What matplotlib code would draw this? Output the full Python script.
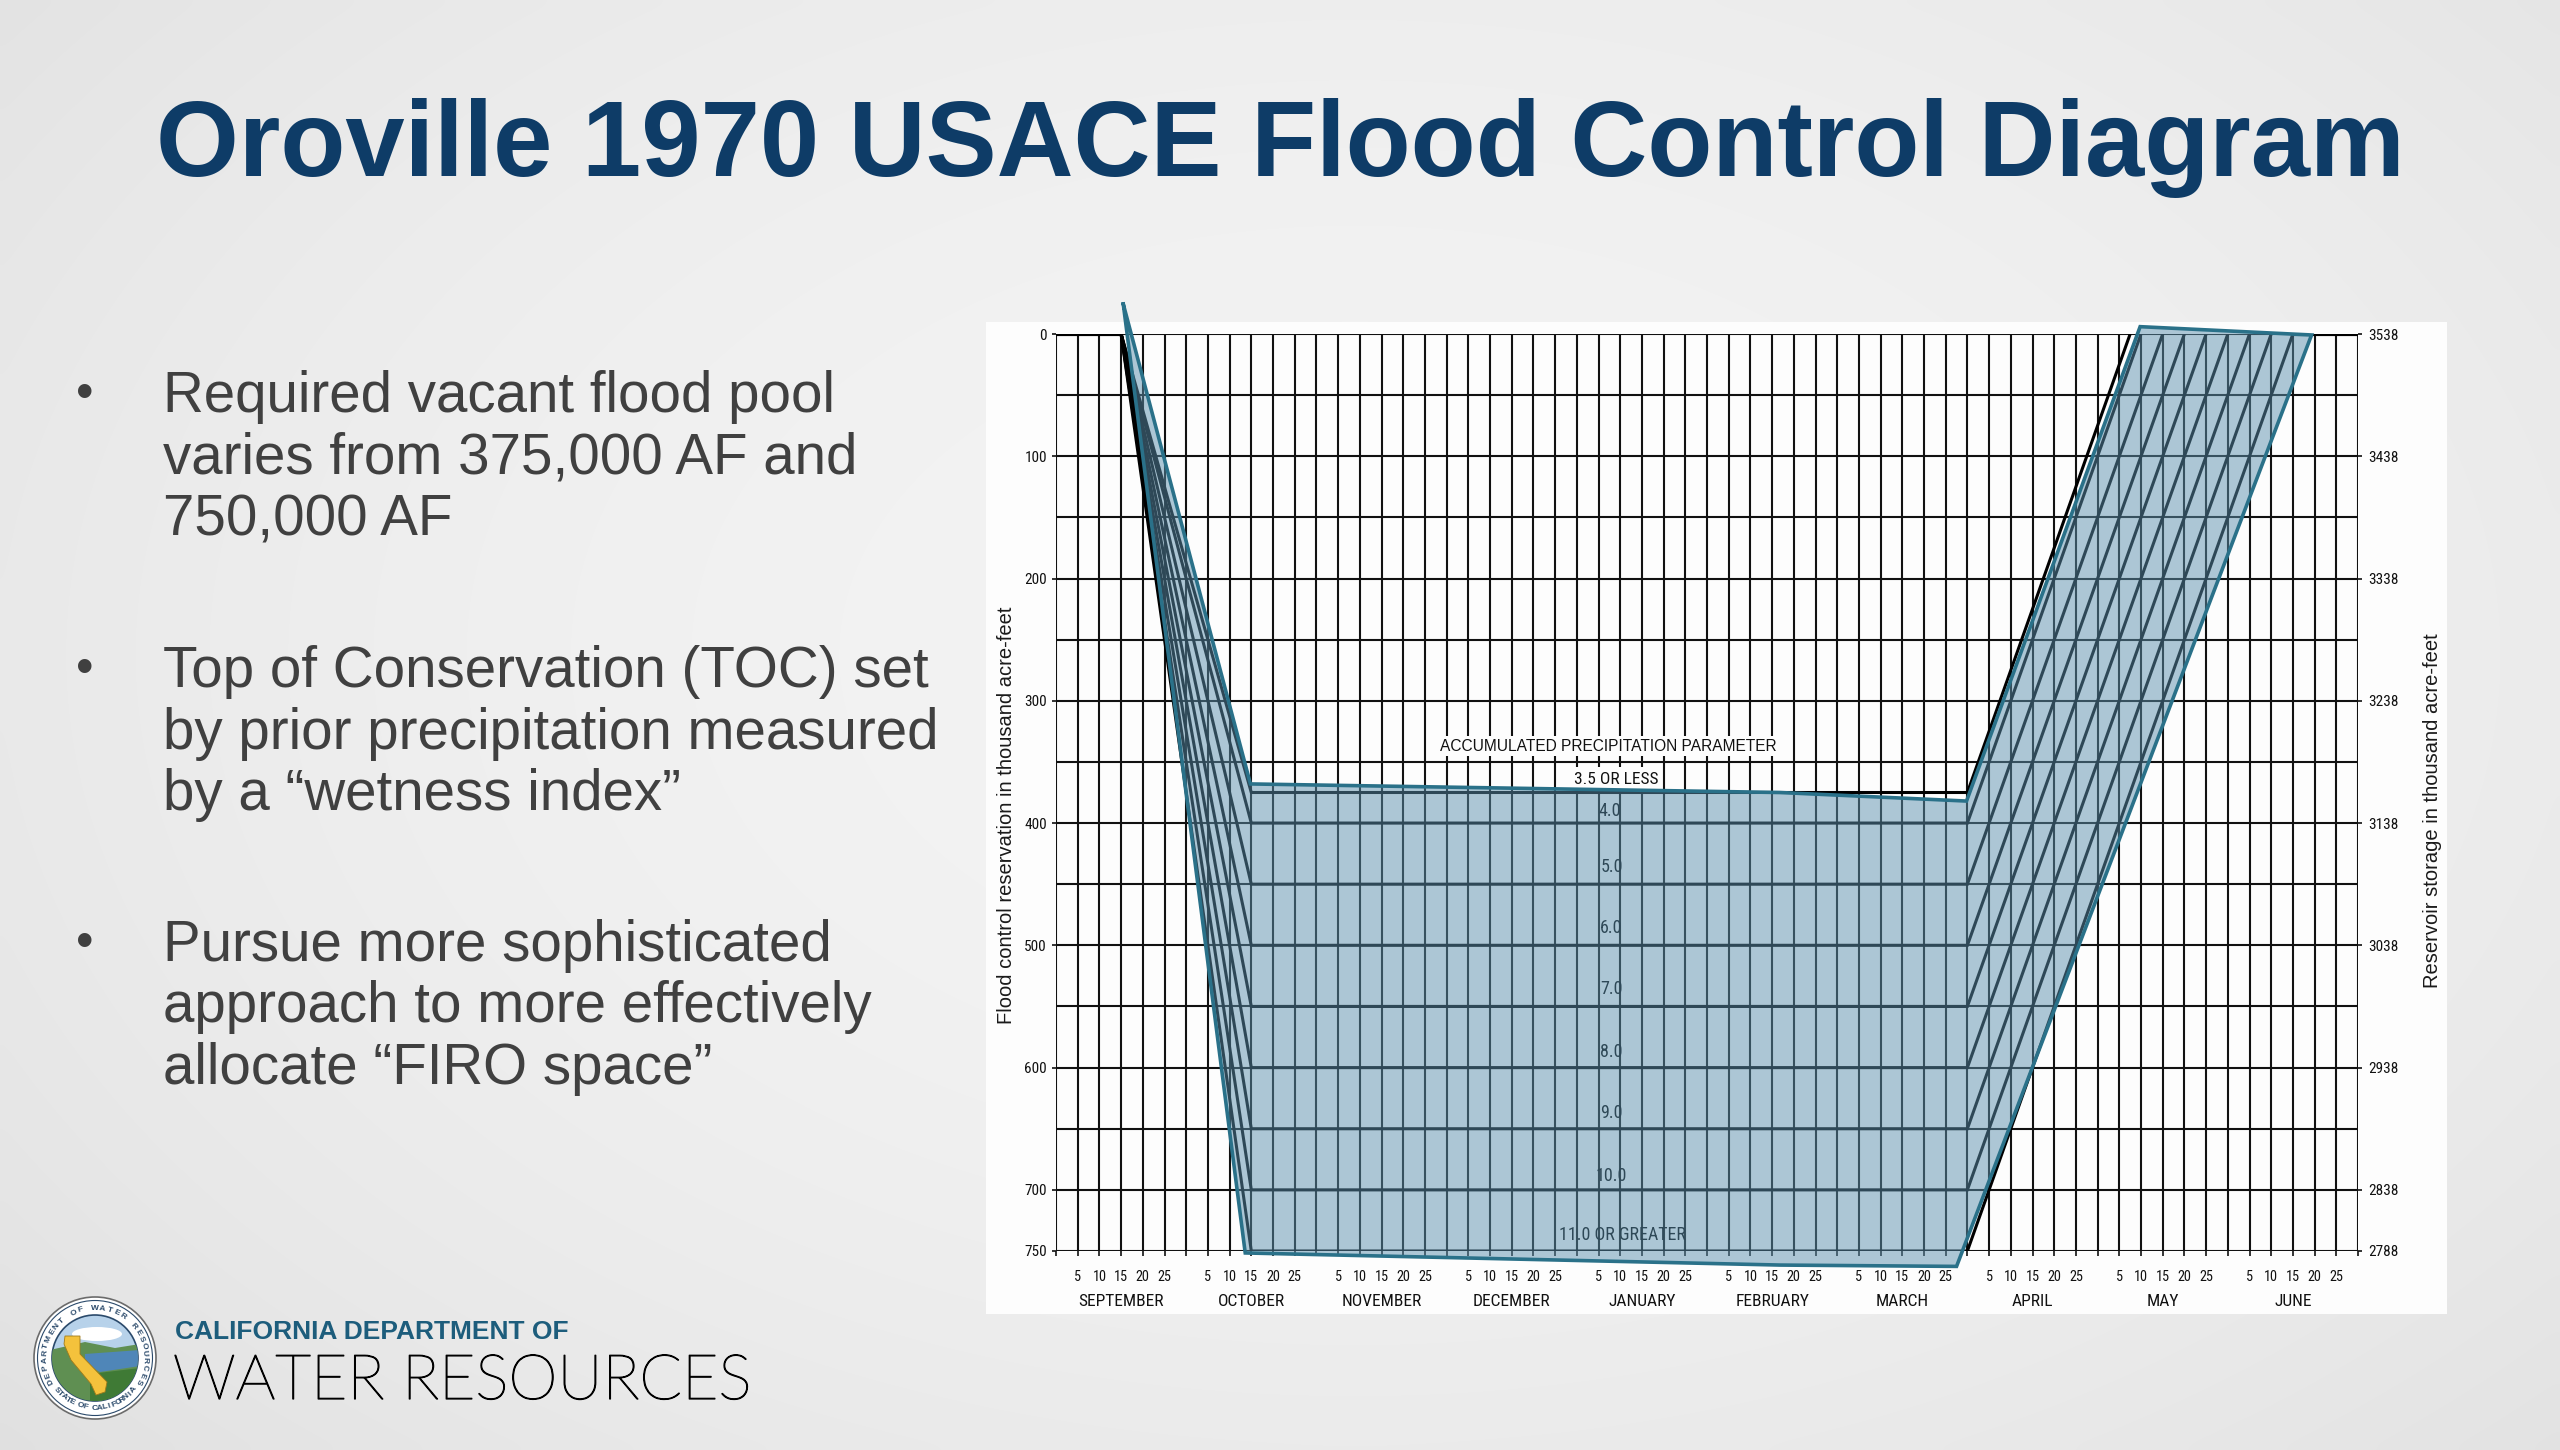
import numpy as np
import matplotlib
matplotlib.use('Agg')
import matplotlib.pyplot as plt
from matplotlib import font_manager as fm
from matplotlib import patheffects as pe
from matplotlib.patches import Rectangle, Circle, Polygon, Ellipse

# ---------------- data ----------------
months = ['SEPTEMBER', 'OCTOBER', 'NOVEMBER', 'DECEMBER', 'JANUARY',
          'FEBRUARY', 'MARCH', 'APRIL', 'MAY', 'JUNE']
day_ticks = [5, 10, 15, 20, 25]

flood_space_levels = [375, 400, 450, 500, 550, 600, 650, 700, 750]   # thousand AF
precip_labels = ['3.5 OR LESS', '4.0', '5.0', '6.0', '7.0', '8.0', '9.0', '10.0', '11.0 OR GREATER']
precip_label_x = [129.0, 127.6, 128.0, 128.0, 128.0, 128.0, 128.0, 128.0, 130.6]
precip_label_y = [364, 390, 436, 486, 536, 587, 637, 689, 737]

drawdown_start = 15      # Sep 15 (chart day index)
drawdown_end = 45        # Oct 15
refill_start = 210       # Apr 1
refill_end = [247.5, 250, 255, 260, 265, 270, 275, 280, 285]

left_ticks = [0, 100, 200, 300, 400, 500, 600, 700, 750]
left_tick_labels = ['0', '100', '200', '300', '400', '500', '600', '700', '750']
right_tick_labels = ['3538', '3438', '3338', '3238', '3138', '3038', '2938', '2838', '2788']

highlight_x = [15.5, 44.8, 166.8, 209.8, 249.8, 289.3, 207.5, 166.8, 43.6]
highlight_y = [-24.5, 368, 375, 382, -6, 0.8, 762.6, 761.5, 751.6]

title = 'Oroville 1970 USACE Flood Control Diagram'
bullets = [
    ['Required vacant flood pool', 'varies from 375,000 AF and', '750,000 AF'],
    ['Top of Conservation (TOC) set', 'by prior precipitation measured', 'by a \u201cwetness index\u201d'],
    ['Pursue more sophisticated', 'approach to more effectively', 'allocate \u201cFIRO space\u201d'],
]

# ---------------- fonts ----------------
ttf = fm.fontManager.ttflist
names = {f.name for f in ttf}
NARROW_KW = None
for cand in ['Liberation Sans Narrow', 'Arial Narrow', 'Roboto Condensed', 'Open Sans Condensed',
             'Noto Sans Condensed', 'DejaVu Sans Condensed']:
    if cand in names:
        NARROW_KW = dict(family=[cand, 'DejaVu Sans'])
        break
if NARROW_KW is None:
    for fam in ['Liberation Sans', 'Noto Sans', 'Open Sans', 'Roboto', 'DejaVu Sans']:
        if any(f.name == fam and 'ondensed' in str(f.fname) for f in ttf):
            NARROW_KW = dict(family=[fam], stretch='condensed')
            break
if NARROW_KW is None:
    NARROW_KW = dict(family=['Liberation Sans', 'DejaVu Sans'])
LIGHT = 'Lato' if 'Lato' in names else 'Liberation Sans'
plt.rcParams['font.family'] = ['Liberation Sans', 'DejaVu Sans']

W, H = 2560, 1450
fig = plt.figure(figsize=(W / 100, H / 100), dpi=100)

# ---------------- slide background ----------------
bg = fig.add_axes([0, 0, 1, 1], zorder=0)
bg.set_xlim(0, W)
bg.set_ylim(H, 0)
bg.axis('off')
yy, xx = np.mgrid[0:H:10, 0:W:10]
r2 = ((xx - 1350) / 1700.0) ** 2 + ((yy - 650) / 1100.0) ** 2
val = np.clip(0.955 - 0.065 * r2, 0.86, 1.0)
bg.imshow(np.dstack([val, val, val]), extent=(0, W, H, 0), interpolation='bicubic',
          aspect='auto', zorder=0)

# white chart panel
bg.add_patch(Rectangle((986, 322), 1461, 992, fc='#fdfdfd', ec='none', zorder=1))

# title
bg.text(1280, 176, title, fontsize=76.7, fontweight='bold', color='#0e3c67',
        ha='center', va='baseline', zorder=2)

# bullets
group_base = [412, 687, 961]
for g, lines in enumerate(bullets):
    b0 = group_base[g]
    bg.text(85, b0 - 17, '\u2022', fontsize=36, color='#404040', ha='center', va='center', zorder=2)
    for k, line in enumerate(lines):
        bg.text(163, b0 + k * 61.5, line, fontsize=40.7, color='#404040',
                ha='left', va='baseline', zorder=2)

# logo text
bg.text(175, 1339, 'CALIFORNIA DEPARTMENT OF', fontsize=19, fontweight='bold',
        color='#1d5d7c', ha='left', va='baseline', zorder=2)
bg.text(173, 1399, 'WATER RESOURCES', fontsize=45, fontweight='light', family=[LIGHT, 'DejaVu Sans'],
        color='#000000', ha='left', va='baseline', zorder=2,
        path_effects=[pe.withStroke(linewidth=0.9, foreground='#000000')])

# seal
cx, cy = 95, 1358
bg.add_patch(Circle((cx, cy), 61, fc='white', ec='#6b6b6b', lw=1.2, zorder=5))
bg.add_patch(Circle((cx, cy), 57.5, fc='none', ec='#2b4a6b', lw=0.8, zorder=6))
inner = Circle((cx, cy), 43, fc='#b7d2ea', ec='#2b4a6b', lw=1.2, zorder=6)
bg.add_patch(inner)
scene = [
    Ellipse((cx + 2, cy - 24), 50, 14, fc='white', ec='none'),
    Polygon([(cx - 45, cy - 8), (cx - 10, cy - 16), (cx + 20, cy - 10), (cx + 45, cy - 14),
             (cx + 45, cy + 45), (cx - 45, cy + 45)], closed=True, fc='#5f8f52', ec='none'),
    Polygon([(cx - 10, cy - 4), (cx + 45, cy - 8), (cx + 45, cy + 8), (cx + 5, cy + 14),
             (cx - 10, cy + 6)], closed=True, fc='#4f86b8', ec='none'),
    Polygon([(cx - 5, cy + 16), (cx + 45, cy + 10), (cx + 45, cy + 45), (cx - 5, cy + 45)],
            closed=True, fc='#3f7a35', ec='none'),
    Polygon([(cx - 30, cy - 22), (cx - 15, cy - 22), (cx - 15, cy - 4), (cx + 12, cy + 24),
             (cx + 10, cy + 34), (cx + 1, cy + 37), (cx - 4, cy + 26), (cx - 24, cy + 2),
             (cx - 31, cy - 14)], closed=True, fc='#f4c23c', ec='#a07a1a', lw=0.6),
]
for p in scene:
    p.set_zorder(7)
    bg.add_patch(p)
    p.set_clip_path(inner)
top_txt = 'DEPARTMENT OF WATER RESOURCES'
angs = np.linspace(208, -28, len(top_txt))
for ch, a in zip(top_txt, angs):
    t = np.deg2rad(a)
    bg.text(cx + 50 * np.cos(t), cy - 50 * np.sin(t), ch, rotation=a - 90, fontsize=6,
            fontweight='bold', color='#2b4a6b', ha='center', va='center', zorder=8,
            rotation_mode='anchor')
bot_txt = 'STATE OF CALIFORNIA'
angs = np.linspace(220, 320, len(bot_txt))
for ch, a in zip(bot_txt, angs):
    t = np.deg2rad(a)
    bg.text(cx + 50 * np.cos(t), cy - 50 * np.sin(t), ch, rotation=a + 90, fontsize=6,
            fontweight='bold', color='#2b4a6b', ha='center', va='center', zorder=8,
            rotation_mode='anchor')

# ---------------- chart ----------------
ax = fig.add_axes([1056 / W, (H - 1251) / H, 1302 / W, 917 / H], zorder=3)
ax.patch.set_visible(False)
ax.set_xlim(0, 300)
ax.set_ylim(750, 0)
for s in ax.spines.values():
    s.set_visible(False)

n_months = len(months)
x_grid = np.arange(0, 30 * n_months + 1, 5)
y_grid = np.arange(0, 751, 50)
ax.vlines(x_grid, 0, 750, colors='#111111', lw=1.5, zorder=1)
ax.hlines(y_grid, 0, 30 * n_months, colors='#111111', lw=1.5, zorder=1)

# flood control curves
for L, rend in zip(flood_space_levels, refill_end):
    ax.plot([drawdown_start, drawdown_end, refill_start, rend],
            [0, L, L, 0], color='black', lw=2.2, zorder=2, solid_joinstyle='miter')
ax.plot([0, drawdown_start], [0, 0], color='black', lw=3.0, zorder=2)
ax.plot([refill_end[-1], 30 * n_months], [0, 0], color='black', lw=3.0, zorder=2)

# labels
ax.text(127.2, 337, 'ACCUMULATED PRECIPITATION PARAMETER', fontsize=11.2, color='#111111',
        ha='center', va='center', zorder=3,
        bbox=dict(fc='#fdfdfd', ec='none', pad=2))
for i, (lab, lx, ly) in enumerate(zip(precip_labels, precip_label_x, precip_label_y)):
    if i == 0:
        ax.text(lx, ly, lab, fontsize=12.5, color='#111111', ha='center', va='center', zorder=3,
                bbox=dict(fc='#fdfdfd', ec='none', pad=3), **NARROW_KW)
    elif i == len(precip_labels) - 1:
        ax.text(lx, ly, lab, fontsize=13, color='#000000', ha='center', va='center',
                zorder=3, **NARROW_KW)
    else:
        ax.text(lx, ly, lab, fontsize=13, color='#000000', ha='center', va='center',
                zorder=3, **NARROW_KW)

# highlighted region
hx = np.array(highlight_x)
hy = np.array(highlight_y)
ax.fill(hx, hy, color='#5d91ae', alpha=0.5, lw=0, zorder=4, clip_on=False)
ax.plot(np.append(hx, hx[0]), np.append(hy, hy[0]), color='#2a7189', lw=2.6, zorder=5,
        clip_on=False, solid_joinstyle='miter')

# x ticks
xlabels = ['' if (x % 30 == 0) else str(int(x % 30)) for x in x_grid]
ax.set_xticks(x_grid, labels=xlabels)
ax.tick_params(axis='x', direction='out', length=3.6, width=1.2, pad=10, labelsize=10,
               colors='#111111')
for t in ax.get_xticklabels():
    t.set_fontproperties(fm.FontProperties(size=10.3, **NARROW_KW))
for i, m in enumerate(months):
    ax.annotate(m, xy=(30 * i + 15, 750), xycoords='data', xytext=(0, -36),
                textcoords='offset points', ha='center', va='center', fontsize=12.5,
                color='#111111', annotation_clip=False, **NARROW_KW)

# y ticks
ax.set_yticks(left_ticks, labels=left_tick_labels)
ax.tick_params(axis='y', direction='out', length=2.9, width=1.2, pad=3.6, labelsize=11,
               colors='#111111')
for t in ax.get_yticklabels():
    t.set_fontproperties(fm.FontProperties(size=11, **NARROW_KW))

ax2 = ax.twinx()
ax2.patch.set_visible(False)
for s in ax2.spines.values():
    s.set_visible(False)
ax2.set_ylim(750, 0)
ax2.set_yticks(left_ticks, labels=right_tick_labels)
ax2.tick_params(axis='y', direction='out', length=2.9, width=1.2, pad=4.3, labelsize=11,
                colors='#111111')
for t in ax2.get_yticklabels():
    t.set_fontproperties(fm.FontProperties(size=11, **NARROW_KW))

# axis titles
bg.text(1007, 815, 'Flood control reservation in thousand acre-feet', rotation=90,
        fontsize=14.5, color='#1a1a1a', ha='center', va='center', zorder=2)
bg.text(2433, 811, 'Reservoir storage in thousand acre-feet', rotation=90,
        fontsize=14.5, color='#1a1a1a', ha='center', va='center', zorder=2)

fig.savefig('out.png', dpi=100)
